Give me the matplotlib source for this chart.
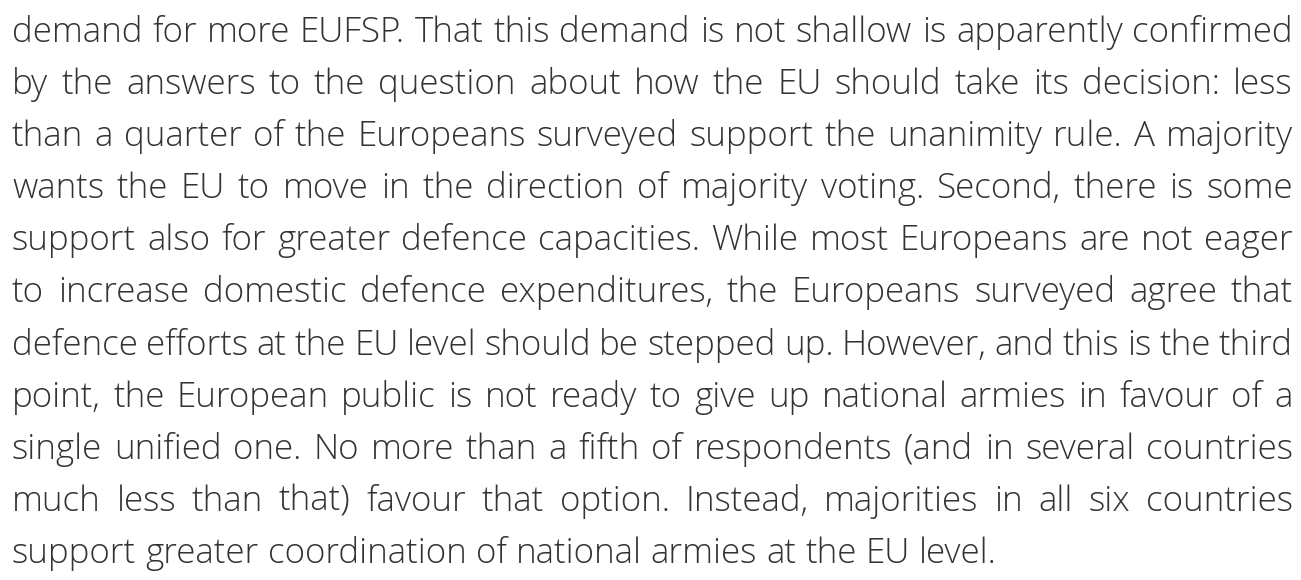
import matplotlib
matplotlib.use("Agg")
import matplotlib.pyplot as plt

# paragraph, line by line as it breaks in the picture
lines = [
    "demand for more EUFSP. That this demand is not shallow is apparently confirmed",
    "by the answers to the question about how the EU should take its decision: less",
    "than a quarter of the Europeans surveyed support the unanimity rule. A majority",
    "wants the EU to move in the direction of majority voting. Second, there is some",
    "support also for greater defence capacities. While most Europeans are not eager",
    "to increase domestic defence expenditures, the Europeans surveyed agree that",
    "defence efforts at the EU level should be stepped up. However, and this is the third",
    "point, the European public is not ready to give up national armies in favour of a",
    "single unified one. No more than a fifth of respondents (and in several countries",
    "much less than that) favour that option. Instead, majorities in all six countries",
    "support greater coordination of national armies at the EU level.",
]

W, H = 1301, 580
left_px, right_px = 12, 1293
first_base = 42.0
line_gap = 52.1
last_line_w = 990.0   # width of the last (not justified) line

fam = ['Open Sans', 'DejaVu Sans']
wt = 'light'
col = '#333333'

fig = plt.figure(figsize=(W / 100, H / 100), dpi=100)
fig.patch.set_facecolor('white')
renderer = fig.canvas.get_renderer()


def width_of(s, size):
    t = fig.text(0, 0, s, fontsize=size, family=fam, weight=wt)
    w = t.get_window_extent(renderer).width
    t.remove()
    return w


# pick font size so the last line has the same width as in the picture
base = 20
size = base * last_line_w / width_of(lines[-1], base)
space_w = width_of("a a", size) - width_of("aa", size)

for i, line in enumerate(lines):
    words = line.split()
    ws = [width_of(w, size) for w in words]
    if i == len(lines) - 1:
        gap = space_w
    else:
        gap = (right_px - left_px - sum(ws)) / (len(words) - 1)
    x = left_px
    y = first_base + i * line_gap
    for w, wd in zip(words, ws):
        fig.text(x / W, 1 - y / H, w, fontsize=size, family=fam, weight=wt,
                 color=col, ha='left', va='baseline')
        x += wd + gap

fig.savefig("out.png", dpi=100, facecolor='white')
